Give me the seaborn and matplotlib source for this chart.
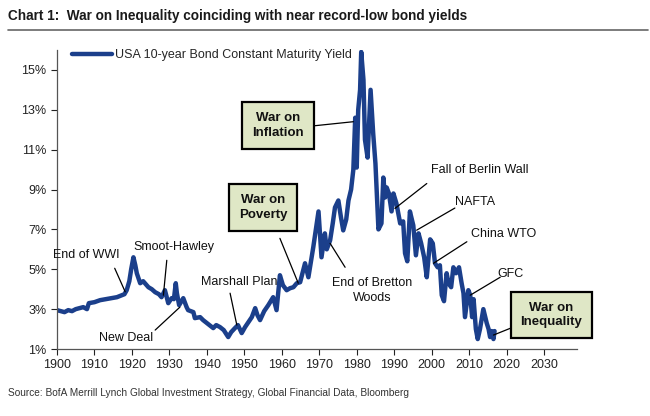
import numpy as np
import pandas as pd
import matplotlib
matplotlib.use('Agg')
import matplotlib.pyplot as plt
import seaborn as sns
import warnings

warnings.filterwarnings('ignore')

# USA 10-year bond constant maturity yield (%)
years = [
    1900.0, 1901.0, 1902.0, 1903.0, 1904.0, 1905.0, 1906.0, 1907.0, 1908.0, 1908.5,
    1910.0, 1911.5, 1913.0, 1914.5, 1916.0, 1917.3, 1918.0, 1918.6, 1919.3, 1919.8,
    1920.4, 1920.9, 1921.3, 1922.2, 1923.0, 1924.4, 1925.3, 1926.2, 1927.2, 1927.9,
    1928.8, 1929.7, 1930.6, 1931.2, 1931.7, 1932.0, 1932.6, 1933.7, 1934.6, 1935.0,
    1936.4, 1936.8, 1938.2, 1939.0, 1940.0, 1941.0, 1941.7, 1942.5, 1943.5, 1944.5,
    1945.7, 1946.5, 1947.5, 1948.3, 1949.3, 1950.2, 1951.1, 1952.0, 1952.9, 1953.5,
    1954.2, 1955.3, 1956.4, 1957.7, 1958.6, 1959.5, 1960.3, 1961.3, 1962.2, 1963.1,
    1964.0, 1964.9, 1966.2, 1967.1, 1968.4, 1969.8, 1970.6, 1971.5, 1972.0, 1972.9,
    1973.6, 1974.2, 1975.1, 1975.8, 1976.4, 1977.2, 1977.8, 1978.5, 1979.1, 1979.6,
    1980.0, 1980.4, 1980.9, 1981.2, 1981.8, 1982.2, 1982.9, 1983.7, 1984.4, 1985.0,
    1985.8, 1986.6, 1987.1, 1987.6, 1988.0, 1988.6, 1989.3, 1989.8, 1990.6, 1991.6,
    1992.4, 1992.9, 1993.5, 1994.2, 1995.1, 1995.8, 1996.5, 1997.2, 1998.0, 1998.7,
    1999.6, 2000.3, 2000.9, 2001.6, 2002.2, 2002.7, 2003.3, 2004.0, 2004.5, 2005.2,
    2005.8, 2006.5, 2007.3, 2008.0, 2008.5, 2008.9, 2009.8, 2010.3, 2010.8, 2011.2,
    2011.8, 2012.3, 2012.9, 2013.8, 2014.7, 2015.2, 2015.6, 2016.0, 2016.5, 2016.8,
]
yields = [
    2.95, 2.9, 2.85, 2.95, 2.9, 3.0, 3.05, 3.1, 3.0, 3.3,
    3.35, 3.45, 3.5, 3.55, 3.6, 3.7, 3.75, 3.95, 4.4, 5.0,
    5.6, 5.2, 4.8, 4.3, 4.4, 4.1, 4.0, 3.85, 3.75, 3.6,
    3.95, 3.3, 3.55, 3.5, 4.3, 3.8, 3.2, 3.55, 3.1, 2.95,
    2.85, 2.55, 2.6, 2.45, 2.3, 2.15, 2.05, 2.2, 2.1, 1.95,
    1.6, 1.85, 2.05, 2.2, 1.8, 2.1, 2.35, 2.6, 3.05, 2.7,
    2.45, 2.9, 3.2, 3.6, 2.95, 4.7, 4.2, 3.95, 4.05, 4.1,
    4.3, 4.35, 5.3, 4.6, 6.1, 7.9, 5.6, 6.8, 6.0, 6.45,
    7.3, 8.1, 8.45, 7.6, 6.95, 7.5, 8.45, 9.0, 10.0, 12.6,
    10.1, 13.0, 14.0, 15.9, 14.5, 11.5, 10.6, 14.0, 11.8, 10.3,
    7.0, 7.3, 9.6, 8.6, 9.1, 8.8, 7.9, 8.8, 8.3, 7.3,
    7.4, 5.8, 5.4, 7.9, 7.2, 5.7, 6.8, 6.3, 5.6, 4.6,
    6.5, 6.3, 5.3, 5.1, 5.2, 3.7, 3.4, 4.8, 4.3, 4.1,
    5.1, 4.8, 5.1, 4.3, 3.8, 2.6, 3.95, 3.7, 2.6, 3.5,
    2.0, 1.5, 2.0, 3.0, 2.3, 2.0, 1.6, 1.9, 1.5, 1.9,
]

x_ticks = list(range(1900, 2031, 10))
y_ticks = [1, 3, 5, 7, 9, 11, 13, 15]

# plain labels: text, text pos, leader end on the line, alignment, leader start
notes = [
    ('End of WWI', 1907.7, 5.7, 1918.2, 3.87, 'center', 1915.4, 5.05),
    ('Smoot-Hawley', 1931.2, 6.1, 1928.4, 3.7, 'center', 1929.3, 5.45),
    ('New Deal', 1918.4, 1.55, 1932.8, 3.1, 'center', 1926.2, 1.95),
    ('Marshall Plan', 1948.6, 4.35, 1948.0, 2.2, 'center', 1946.2, 3.8),
    ('End of Bretton\nWoods', 1984.1, 3.95, 1972.9, 6.3, 'center', 1976.9, 5.1),
    ('Fall of Berlin Wall', 1999.8, 9.97, 1990.2, 8.05, 'left', 1998.7, 9.3),
    ('NAFTA', 2006.3, 8.37, 1996.0, 6.96, 'left', 2006.2, 8.07),
    ('China WTO', 2010.6, 6.76, 2000.5, 5.3, 'left', 2009.4, 6.38),
    ('GFC', 2017.5, 4.76, 2010.3, 3.7, 'left', 2018.3, 4.6),
]
# boxed labels: text, centre, leader start, leader end on the line
boxes = [
    ('War on\nPoverty', 1955.0, 8.1, 1959.5, 6.55, 1964.4, 4.3),
    ('War on\nInflation', 1959.0, 12.2, 1968.9, 12.2, 1979.1, 12.4),
    ('War on\nInequality', 2032.0, 2.7, 2021.0, 2.04, 2016.5, 1.7),
]

df = pd.DataFrame({'year': years, 'yield': yields})

sns.set_style('ticks')
plt.rcParams['font.family'] = ['Liberation Sans', 'DejaVu Sans']

fig = plt.figure(figsize=(6.5, 4.16), dpi=100)
ax = fig.add_axes([0.0877, 0.161, 0.80, 0.719])

line_color = '#1b3f8b'
sns.lineplot(data=df, x='year', y='yield', ax=ax, color=line_color, linewidth=3.2,
             label='USA 10-year Bond Constant Maturity Yield')

ax.set_xlim(1900, 2038.8)
ax.set_ylim(1, 16)
ax.set_xticks(x_ticks)
ax.set_yticks(y_ticks)
ax.set_yticklabels([f'{v}%' for v in y_ticks])
ax.set_xlabel('')
ax.set_ylabel('')
ax.tick_params(axis='both', labelsize=9, colors='#222222', length=4, width=0.8)
for s in ['left', 'bottom']:
    ax.spines[s].set_color('#555555')
    ax.spines[s].set_linewidth(0.9)
sns.despine(ax=ax)

leg = ax.legend(loc='upper left', bbox_to_anchor=(0.02, 1.02), frameon=False,
                fontsize=9, handlelength=3.2, handletextpad=0.2, borderaxespad=0)

for text, tx, ty, px, py, ha, lx, ly in notes:
    ax.text(tx, ty, text, ha=ha, va='center', fontsize=9, color='#111111',
            linespacing=1.3)
    ax.plot([lx, px], [ly, py], color='black', linewidth=0.9)

for text, tx, ty, lx, ly, px, py in boxes:
    ax.text(tx, ty, text, ha='center', va='center', fontsize=9.5, color='#111111',
            fontweight='bold', linespacing=1.3,
            bbox=dict(boxstyle='square,pad=0.75', facecolor='#dfe7c6',
                      edgecolor='black', linewidth=1.6))
    ax.plot([lx, px], [ly, py], color='black', linewidth=0.9)

fig.text(0.012, 0.962, 'Chart 1:  War on Inequality coinciding with near record-low bond yields',
         fontsize=9.8, fontweight='bold', color='#1a1a1a', va='center',
         family=['Liberation Sans Narrow', 'Liberation Sans', 'DejaVu Sans'])
fig.add_artist(plt.Line2D([0.012, 0.997], [0.928, 0.928], color='#666666', linewidth=1.2))
fig.text(0.012, 0.055,
         'Source: BofA Merrill Lynch Global Investment Strategy, Global Financial Data, Bloomberg',
         fontsize=7.3, color='#333333', va='center',
         family=['Liberation Sans Narrow', 'Liberation Sans', 'DejaVu Sans'])

fig.savefig('out.png', dpi=100, facecolor='white')
